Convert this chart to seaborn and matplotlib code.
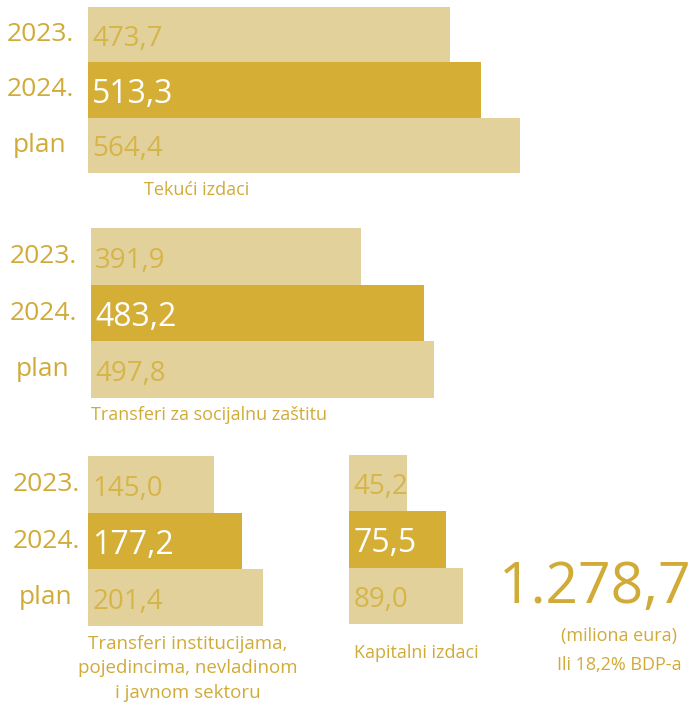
import matplotlib
matplotlib.use("Agg")
import matplotlib.pyplot as plt
import seaborn as sns
import pandas as pd

sns.set_style("white")
plt.rcParams['font.family'] = ['Open Sans', 'DejaVu Sans']

# data
years = ["2023.", "2024.", "plan"]
tekuci = [473.7, 513.3, 564.4]
socijalna = [391.9, 483.2, 497.8]
institucije = [145.0, 177.2, 201.4]
kapitalni = [45.2, 75.5, 89.0]
value_labels = {
    "tekuci": ["473,7", "513,3", "564,4"],
    "socijalna": ["391,9", "483,2", "497,8"],
    "institucije": ["145,0", "177,2", "201,4"],
    "kapitalni": ["45,2", "75,5", "89,0"],
}
titles = {
    "tekuci": "Tekući izdaci",
    "socijalna": "Transferi za socijalnu zaštitu",
    "institucije": "Transferi institucijama,\npojedincima, nevladinom\ni javnom sektoru",
    "kapitalni": "Kapitalni izdaci",
}
total = "1.278,7"
total_note = "(miliona eura)\nIli 18,2% BDP-a"

LIGHT = "#e3d19c"
DARK = "#d4ae35"
GOLD = "#d1ab38"
TXT_LIGHT = "#d6b548"

W, H = 697, 714
fig = plt.figure(figsize=(W / 100, H / 100), dpi=100)
fig.patch.set_facecolor("white")


def px_axes(left, top, width, height):
    return fig.add_axes([left / W, 1 - (top + height) / H, width / W, height / H])


def group(key, values, left, top, bottom, scale, show_years=True, year_x=40):
    width = 500
    ax = px_axes(left, top, width, bottom - top)
    ax.patch.set_alpha(0)
    df = pd.DataFrame({"year": years, "val": values})
    sns.barplot(data=df, x="val", y="year", hue="year", orient="h",
                palette=[LIGHT, DARK, LIGHT], width=1.0, legend=False,
                ax=ax, saturation=1, linewidth=0)
    ax.set_xlim(0, width / scale)
    ax.set_ylim(2.5, -0.5)
    ax.axis("off")
    for i, lab in enumerate(value_labels[key]):
        dark = i == 1
        ax.annotate(lab, xy=(0, i), xytext=(3, -3), textcoords="offset points",
                    ha="left", va="center",
                    fontsize=23 if dark else 20,
                    color="white" if dark else TXT_LIGHT)
    if show_years:
        ybar = (bottom - top) / 3
        for i, y in enumerate(years):
            fig.text(year_x / W, 1 - (top + ybar * (i + 0.5)) / H, y,
                     ha="center", va="center", fontsize=19, color=GOLD)
    return ax


group("tekuci", tekuci, 88, 7, 173, 0.765, year_x=40)
fig.text(197 / W, 1 - 190 / H, titles["tekuci"], ha="center", va="center",
         fontsize=13, color=GOLD)

group("socijalna", socijalna, 91, 228, 398, 0.69, year_x=43)
fig.text(91 / W, 1 - 415 / H, titles["socijalna"], ha="left", va="center",
         fontsize=13, color=GOLD)

group("institucije", institucije, 88, 456, 626, 0.87, year_x=46)
group("kapitalni", kapitalni, 349, 455, 624, 1.28, show_years=False)

fig.text(188 / W, 1 - 635 / H, titles["institucije"], ha="center", va="top",
         fontsize=13.5, color=GOLD, linespacing=1.45)
fig.text(416 / W, 1 - 653 / H, titles["kapitalni"], ha="center", va="center",
         fontsize=13, color=GOLD)

fig.text(692 / W, 1 - 588 / H, total, ha="right", va="center",
         fontsize=41, color=GOLD)
fig.text(619 / W, 1 - 627 / H, total_note, ha="center", va="top",
         fontsize=13, color=GOLD, linespacing=1.75)

fig.savefig("out.png", dpi=100, facecolor="white")
